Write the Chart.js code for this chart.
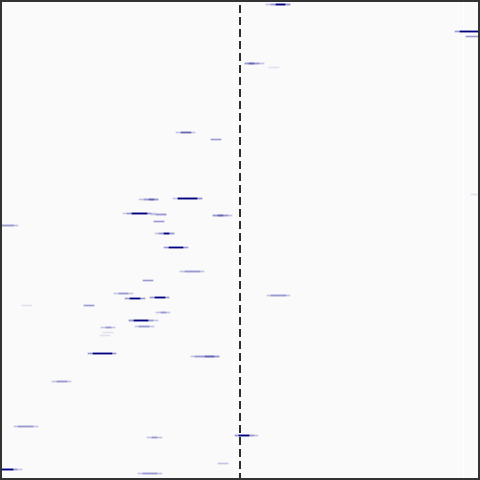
<!DOCTYPE html>
<html>
<head>
<meta charset="utf-8">
<script src="https://cdn.jsdelivr.net/npm/chart.js@4.4.0/dist/chart.umd.min.js"></script>
<style>
html,body{margin:0;padding:0;background:#fafafa;}
#wrap{width:480px;height:480px;}
</style>
</head>
<body>
<div id="wrap"><canvas id="c" width="480" height="480"></canvas></div>
<script>
// x values: effect relative to reference line at 0; y: row position
const xMin = -240, xMax = 240;
const refLineX = 0;
const gridX = [-6, 223];

const veryLightRows = [67, 194, 305, 332, 335];
const veryLightLo   = [29, 231, -218, -137, -140];
const veryLightHi   = [39, 238, -208, -127, -130];

const lightRows = [4,63,132,198,199,213,214,215,225,233,271,293,295,312,320,326,327,356,381,426,435,437,463,469,473];
const lightLo   = [26,5,-64,-67,-101,-117,-89,-27,-242,-85,-60,-126,27,-84,-111,-105,-139,-49,-188,-226,-5,-93,-22,-242,-102];
const lightHi   = [50,24,-45,-38,-82,-84,-74,-8,-222,-66,-36,-107,50,-70,-82,-86,-125,-21,-169,-202,18,-78,-12,-218,-78];

const midRows = [4,31,36,63,139,198,199,213,214,215,221,225,233,247,271,280,293,295,297,298,305,312,320,326,327,353,356,381,426,435,437,469,473];
const midLo   = [31,215,226,5,-29,-62,-96,-113,-84,-27,-86,-242,-81,-76,-55,-97,-121,31,-90,-115,-156,-79,-111,-101,-134,-152,-45,-183,-222,-5,-88,-242,-97];
const midHi   = [50,242,242,19,-19,-38,-82,-89,-74,-12,-76,-226,-66,-52,-40,-87,-112,46,-71,-95,-146,-74,-87,-91,-129,-124,-21,-173,-207,14,-83,-223,-83];

const midDarkRows = [63, 132, 199, 215, 356];
const midDarkLo   = [9, -59, -91, -22, -35];
const midDarkHi   = [14, -49, -86, -17, -26];

const darkRows = [4,31,198,213,233,247,297,298,320,353,435,469];
const darkLo   = [36,220,-62,-108,-76,-71,-85,-110,-106,-147,-1,-242];
const darkHi   = [45,242,-43,-93,-71,-57,-75,-100,-92,-128,9,-227];

function seg(rows, lo, hi){ return rows.map((r,i)=>({y:r, x:[lo[i], hi[i]]})); }
function barSet(rows, lo, hi, color, order){
  return {type:'bar', data:seg(rows,lo,hi), backgroundColor:color, borderWidth:0,
          barThickness:1, grouped:false, order:order};
}

const bgPlugin = {
  id:'bg',
  beforeDraw(chart){
    const ctx = chart.ctx;
    ctx.save();
    ctx.fillStyle = '#fafafa';
    ctx.fillRect(0,0,chart.width,chart.height);
    ctx.restore();
  },
  beforeDatasetsDraw(chart){
    const ctx = chart.ctx, xs = chart.scales.x, a = chart.chartArea;
    ctx.save();
    ctx.strokeStyle = '#ffffff';
    ctx.lineWidth = 1;
    gridX.forEach(v=>{
      const p = Math.round(xs.getPixelForValue(v)) + 0.5;
      ctx.beginPath(); ctx.moveTo(p, a.top); ctx.lineTo(p, a.bottom); ctx.stroke();
    });
    ctx.restore();
  },
  afterDraw(chart){
    const ctx = chart.ctx;
    ctx.save();
    ctx.strokeStyle = '#333333';
    ctx.lineWidth = 2;
    ctx.strokeRect(1,1,chart.width-2,chart.height-2);
    ctx.restore();
  }
};

new Chart(document.getElementById('c'), {
  data: {
    datasets: [
      barSet(darkRows, darkLo, darkHi, '#00007f', 0),
      barSet(midDarkRows, midDarkLo, midDarkHi, '#6666b4', 1),
      barSet(midRows, midLo, midHi, '#9a9ad2', 2),
      barSet(lightRows, lightLo, lightHi, '#c4c4e4', 3),
      barSet(veryLightRows, veryLightLo, veryLightHi, '#e2e2ee', 4),
      {type:'line', data:[{x:refLineX, y:-0.5},{x:refLineX, y:479.5}],
       borderColor:'#2e2e2e', borderWidth:2, borderDash:[8,4], borderDashOffset:7,
       pointRadius:0, fill:false, tension:0, order:5}
    ]
  },
  options: {
    responsive:false,
    animation:false,
    indexAxis:'y',
    layout:{padding:0},
    plugins:{legend:{display:false}, tooltip:{enabled:false}},
    scales:{
      x:{type:'linear', min:xMin, max:xMax, display:false, offset:false},
      y:{type:'linear', min:-0.5, max:479.5, reverse:true, display:false, offset:false}
    }
  },
  plugins:[bgPlugin]
});
</script>
</body>
</html>
